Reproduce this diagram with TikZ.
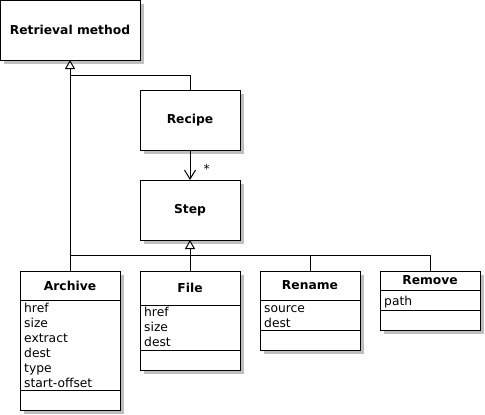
\documentclass[tikz,border=0pt]{standalone}
\usepackage{fontspec}
\setmainfont{DejaVu Sans}
\usetikzlibrary{shadows,arrows.meta}
\tikzset{
  box/.style={draw, line width=1pt, fill=white, inner sep=0pt, outer sep=0pt,
    minimum width=100pt,
    drop shadow={shadow xshift=4pt, shadow yshift=-4pt, fill=black!25, opacity=1}},
  cname/.style={font=\fontsize{12.3}{15}\selectfont\bfseries, inner sep=0pt},
  attr/.style={font=\fontsize{12.3}{15}\selectfont, inner sep=0pt, anchor=base west},
  conn/.style={line width=1pt},
  gen/.style={line width=1pt, -{Triangle[open, width=10pt, length=9pt, fill=white]}},
  assoc/.style={line width=1pt, -{Straight Barb[length=9pt, width=11pt]}},
  sep/.style={line width=1pt}
}
\begin{document}
\begin{tikzpicture}[x=1pt,y=-1pt]
\useasboundingbox (0,0) rectangle (485,415);
% simple classes
\node[box, cname, minimum width=140pt, minimum height=60pt] (rm) at (70,30) {Retrieval method};
\node[box, cname, minimum height=60pt] (rc) at (190,120) {Recipe};
\node[box, cname, minimum height=60pt] (st) at (190,210) {Step};
% Archive
\node[box, minimum height=139pt] (ar) at (70,340.5) {};
\node[cname] (arn) at (70,285.5) {Archive};
\draw[sep] (ar.west |- 0,300) -- (ar.east |- 0,300);
\draw[sep] (ar.west |- 0,390) -- (ar.east |- 0,390);
\node[attr] (ar1) at (24,312) {href};
\node[attr] (ar2) at (24,327) {size};
\node[attr] (ar3) at (24,342) {extract};
\node[attr] (ar4) at (24,357) {dest};
\node[attr] (ar5) at (24,372) {type};
\node[attr] (ar6) at (24,387) {start-offset};
% File
\node[box, minimum height=99pt] (fi) at (190,320.5) {};
\node[cname] (fin) at (190,288) {File};
\draw[sep] (fi.west |- 0,305) -- (fi.east |- 0,305);
\draw[sep] (fi.west |- 0,350) -- (fi.east |- 0,350);
\node[attr] (fi1) at (144,316) {href};
\node[attr] (fi2) at (144,331) {size};
\node[attr] (fi3) at (144,346) {dest};
% Rename
\node[box, minimum height=79pt] (rn) at (310,310.5) {};
\node[cname] (rnn) at (310,285.5) {Rename};
\draw[sep] (rn.west |- 0,300) -- (rn.east |- 0,300);
\draw[sep] (rn.west |- 0,330) -- (rn.east |- 0,330);
\node[attr] (rn1) at (264,312) {source};
\node[attr] (rn2) at (264,327) {dest};
% Remove
\node[box, minimum height=59pt] (rv) at (430,300.5) {};
\node[cname] (rvn) at (430,280.5) {Remove};
\draw[sep] (rv.west |- 0,290) -- (rv.east |- 0,290);
\draw[sep] (rv.west |- 0,310) -- (rv.east |- 0,310);
\node[attr] (rv1) at (384,305) {path};
% connectors
\coordinate (j1) at (70,75);
\coordinate (j2) at (70,255);
\draw[gen] (ar.north) -- (rm.south);
\draw[conn] (rc.north) |- (j1);
\draw[gen] (fi.north) -- (st.south);
\draw[conn] (j2) -- (rv.north |- j2) -- (rv.north);
\draw[conn] (rn.north |- j2) -- (rn.north);
\draw[assoc] (rc.south) -- (st.north) node[pos=0.63, right=13pt, font=\fontsize{12.3}{15}\selectfont, inner sep=0pt] (mult) {*};
\end{tikzpicture}
\end{document}
